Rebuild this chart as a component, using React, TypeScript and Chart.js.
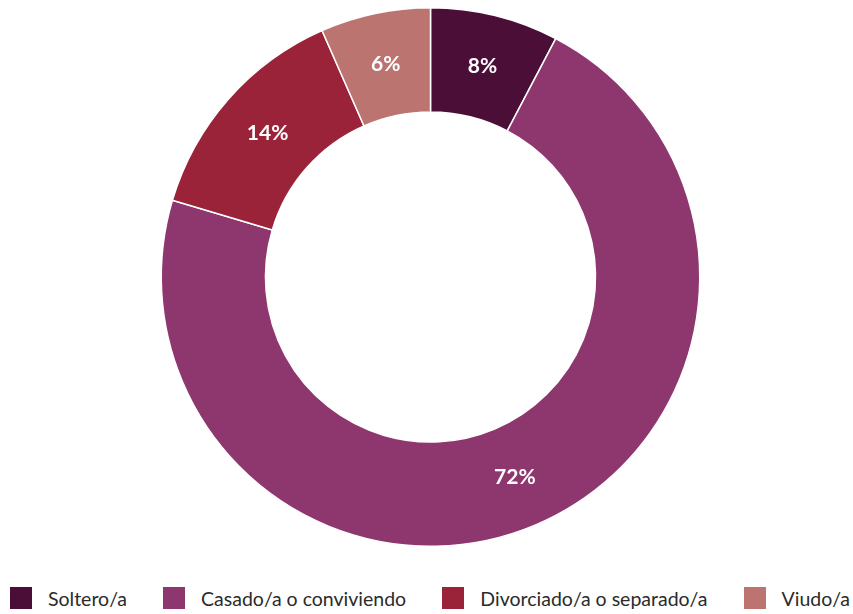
import React, { useEffect, useRef } from "react";
import { Chart, registerables } from "chart.js";

Chart.register(...registerables);

const categories = ["Soltero/a", "Casado/a o conviviendo", "Divorciado/a o separado/a", "Viudo/a"];
const values = [7.7, 71.9, 13.8, 6.6];
const valueLabels = ["8%", "72%", "14%", "6%"];
const colors = ["#4B0F37", "#8E376E", "#9B2339", "#BC7470"];

const FONT = "Lato, 'Noto Sans', sans-serif";

const labelPlugin = {
  id: "sliceLabels",
  afterDatasetsDraw(chart: any) {
    const ctx = chart.ctx;
    const meta = chart.getDatasetMeta(0);
    ctx.save();
    ctx.fillStyle = "#ffffff";
    ctx.font = `bold 21px ${FONT}`;
    ctx.textAlign = "center";
    ctx.textBaseline = "middle";
    meta.data.forEach((arc: any, i: number) => {
      const p = arc.tooltipPosition();
      ctx.fillText(valueLabels[i], p.x, p.y);
    });
    ctx.restore();
  },
};

export default function App() {
  const ref = useRef<HTMLCanvasElement | null>(null);

  useEffect(() => {
    document.body.style.margin = "0";
    if (!ref.current) return;
    const chart = new Chart(ref.current, {
      type: "doughnut",
      data: {
        labels: categories,
        datasets: [
          {
            data: values,
            backgroundColor: colors,
            borderColor: "#ffffff",
            borderWidth: 1.5,
          },
        ],
      },
      options: {
        responsive: false,
        animation: false,
        cutout: "61.3%",
        layout: { padding: { top: 7, bottom: 13, left: 8, right: 0 } },
        plugins: {
          legend: { display: false },
          tooltip: { enabled: false },
        },
      },
      plugins: [labelPlugin],
    });
    return () => chart.destroy();
  }, []);

  return (
    <div style={{ position: "relative", width: 853, height: 614, background: "#fff" }}>
      <canvas ref={ref} width={853} height={560} style={{ display: "block" }} />
      <div
        style={{
          position: "absolute",
          left: 10,
          right: 3,
          top: 587,
          height: 22,
          display: "flex",
          justifyContent: "space-between",
          alignItems: "center",
          fontFamily: FONT,
          fontSize: 19.5,
          color: "#2b2b2b",
        }}
      >
        {categories.map((c, i) => (
          <div key={c} style={{ display: "flex", alignItems: "center" }}>
            <span style={{ width: 22, height: 22, background: colors[i], display: "inline-block", marginRight: 16 }} />
            <span style={{ whiteSpace: "nowrap" }}>{c}</span>
          </div>
        ))}
      </div>
    </div>
  );
}
